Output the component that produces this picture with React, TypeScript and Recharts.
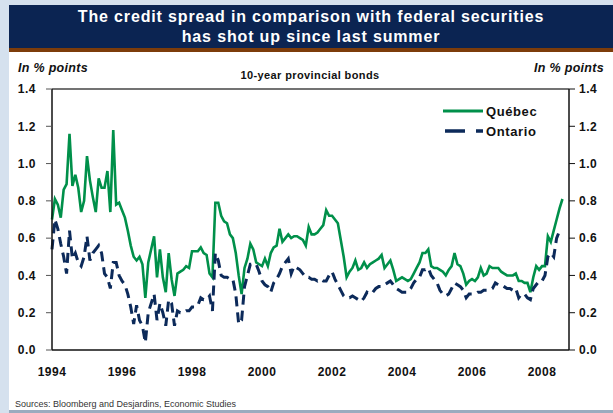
import { LineChart, Line, XAxis, YAxis, ReferenceLine } from 'recharts';

const font = '"Liberation Sans", Arial, sans-serif';

const years = [1994, 1995, 1996, 1997, 1998, 1999, 2000, 2001, 2002, 2003, 2004, 2005, 2006, 2007, 2008];

// monthly spreads, one row per year (Jan..Dec), 2008 runs to August
const quebec = [
  [0.70, 0.81, 0.78, 0.71, 0.86, 0.89, 1.16, 0.88, 0.94, 0.87, 0.74, 0.80],
  [1.04, 0.91, 0.82, 0.74, 0.92, 0.87, 0.87, 0.96, 0.74, 1.18, 0.78, 0.79],
  [0.75, 0.71, 0.64, 0.56, 0.50, 0.48, 0.50, 0.46, 0.28, 0.47, 0.54, 0.61],
  [0.39, 0.54, 0.39, 0.31, 0.52, 0.38, 0.29, 0.41, 0.42, 0.43, 0.45, 0.44],
  [0.53, 0.53, 0.53, 0.55, 0.52, 0.51, 0.41, 0.39, 0.79, 0.79, 0.72, 0.69],
  [0.68, 0.62, 0.60, 0.52, 0.40, 0.30, 0.44, 0.49, 0.57, 0.54, 0.47, 0.46],
  [0.45, 0.49, 0.45, 0.52, 0.55, 0.56, 0.65, 0.58, 0.60, 0.62, 0.60, 0.61],
  [0.61, 0.60, 0.59, 0.56, 0.66, 0.62, 0.62, 0.63, 0.65, 0.67, 0.75, 0.72],
  [0.72, 0.70, 0.68, 0.59, 0.50, 0.39, 0.42, 0.44, 0.48, 0.43, 0.44, 0.47],
  [0.44, 0.46, 0.47, 0.48, 0.49, 0.51, 0.44, 0.46, 0.48, 0.43, 0.37, 0.38],
  [0.39, 0.38, 0.37, 0.38, 0.41, 0.44, 0.47, 0.52, 0.52, 0.54, 0.45, 0.44],
  [0.44, 0.43, 0.42, 0.40, 0.43, 0.45, 0.52, 0.46, 0.45, 0.41, 0.35, 0.37],
  [0.38, 0.37, 0.39, 0.44, 0.40, 0.41, 0.45, 0.44, 0.44, 0.44, 0.42, 0.41],
  [0.40, 0.40, 0.40, 0.41, 0.37, 0.37, 0.36, 0.36, 0.31, 0.39, 0.45, 0.43],
  [0.45, 0.45, 0.61, 0.58, 0.64, 0.70, 0.76, 0.81],
];

const ontario = [
  [0.54, 0.70, 0.65, 0.57, 0.50, 0.41, 0.64, 0.49, 0.52, 0.47, 0.45, 0.50],
  [0.61, 0.48, 0.52, 0.54, 0.56, 0.52, 0.41, 0.39, 0.33, 0.47, 0.47, 0.40],
  [0.37, 0.35, 0.30, 0.23, 0.14, 0.24, 0.16, 0.13, 0.04, 0.20, 0.25, 0.30],
  [0.16, 0.25, 0.20, 0.13, 0.27, 0.25, 0.13, 0.21, 0.20, 0.20, 0.21, 0.21],
  [0.23, 0.23, 0.24, 0.28, 0.27, 0.27, 0.29, 0.21, 0.52, 0.48, 0.40, 0.39],
  [0.39, 0.38, 0.38, 0.30, 0.14, 0.16, 0.34, 0.40, 0.46, 0.46, 0.46, 0.42],
  [0.37, 0.35, 0.34, 0.31, 0.36, 0.38, 0.41, 0.45, 0.47, 0.49, 0.41, 0.45],
  [0.44, 0.43, 0.41, 0.39, 0.39, 0.38, 0.38, 0.37, 0.38, 0.37, 0.37, 0.40],
  [0.42, 0.38, 0.35, 0.32, 0.29, 0.28, 0.28, 0.29, 0.28, 0.27, 0.26, 0.28],
  [0.31, 0.30, 0.31, 0.33, 0.34, 0.34, 0.35, 0.36, 0.37, 0.35, 0.33, 0.32],
  [0.31, 0.31, 0.31, 0.33, 0.36, 0.38, 0.39, 0.43, 0.43, 0.44, 0.40, 0.38],
  [0.36, 0.32, 0.30, 0.29, 0.30, 0.33, 0.36, 0.35, 0.34, 0.32, 0.28, 0.30],
  [0.30, 0.30, 0.31, 0.31, 0.32, 0.32, 0.32, 0.33, 0.36, 0.35, 0.35, 0.34],
  [0.33, 0.33, 0.32, 0.33, 0.28, 0.30, 0.30, 0.28, 0.27, 0.33, 0.35, 0.37],
  [0.37, 0.40, 0.50, 0.52, 0.50, 0.60, 0.64],
];

const xTicks = [1994, 1996, 1998, 2000, 2002, 2004, 2006, 2008];
const yTicks = [0, 0.2, 0.4, 0.6, 0.8, 1.0, 1.2, 1.4];

const data = years.flatMap((y, i) =>
  quebec[i].map((q, m) => ({
    t: y + m / 12,
    quebec: q,
    ontario: ontario[i][m] ?? null,
  }))
);

const GREEN = '#00904a';
const NAVY = '#0c2a5a';

const LegendBox = () => (
  <svg width={110} height={40} style={{ position: 'absolute', left: 440, top: 101 }}>
    <line x1={3} y1={10} x2={43} y2={10} stroke={GREEN} strokeWidth={3} />
    <text x={46} y={14.5} fontFamily={font} fontWeight="bold" fontSize={13} letterSpacing={0.6} fill="#111">Québec</text>
    <line x1={5} y1={30} x2={43} y2={30} stroke={NAVY} strokeWidth={3.5} strokeDasharray="20 11" />
    <text x={46} y={34.5} fontFamily={font} fontWeight="bold" fontSize={13} letterSpacing={0.6} fill="#111">Ontario</text>
  </svg>
);

const tickStyle = { fill: '#111', fontSize: 12, fontWeight: 'bold', fontFamily: font, letterSpacing: 0.5 };

export default function App() {
  return (
    <div style={{ position: 'absolute', left: 0, top: 0, width: 613, height: 413, background: '#fff', overflow: 'hidden', fontFamily: font }}>
      <div style={{ position: 'absolute', left: 0, top: 0, width: 9, height: 413, background: '#d5e1ee' }} />
      <div style={{ position: 'absolute', left: 0, top: 0, width: 613, height: 5, background: '#d5e1ee' }} />
      <div
        style={{
          position: 'absolute', left: 9, top: 5, width: 604, height: 43, background: '#0b2452',
          color: '#fff', fontWeight: 'bold', fontSize: 16, letterSpacing: 0.85, lineHeight: '20px',
          textAlign: 'center', paddingTop: 2, boxSizing: 'border-box',
        }}
      >
        The credit spread in comparison with federal securities
        <br />
        has shot up since last summer
      </div>
      <div style={{ position: 'absolute', left: 9, top: 48, width: 604, height: 4, background: '#7d3c0a' }} />
      <div style={{ position: 'absolute', left: 9, top: 410, width: 604, height: 3, background: '#9aabbf' }} />

      <div style={{ position: 'absolute', left: 18, top: 61, fontSize: 12.5, fontWeight: 'bold', fontStyle: 'italic', color: '#111', letterSpacing: 0.3 }}>
        In % points
      </div>
      <div style={{ position: 'absolute', right: 9, top: 61, fontSize: 12.5, fontWeight: 'bold', fontStyle: 'italic', color: '#111', letterSpacing: 0.3 }}>
        In % points
      </div>
      <div style={{ position: 'absolute', left: 0, width: 620, top: 69, textAlign: 'center', fontSize: 11, fontWeight: 'bold', color: '#111', letterSpacing: 0.4 }}>
        10-year provincial bonds
      </div>
      <div style={{ position: 'absolute', left: 15, top: 399, fontSize: 9, color: '#333' }}>
        Sources: Bloomberg and Desjardins, Economic Studies
      </div>

      <div style={{ position: 'absolute', left: 0, top: 0 }}>
        <LineChart width={613} height={413} data={data} margin={{ top: 89, right: 4, left: 12, bottom: 43 }}>
          <XAxis
            dataKey="t"
            type="number"
            domain={[1994, 2008.77]}
            ticks={xTicks}
            tickLine={false}
            tickMargin={11}
            height={20}
            axisLine={{ stroke: '#111', strokeWidth: 1.5 }}
            tick={tickStyle}
            interval={0}
          />
          <YAxis
            yAxisId="left"
            orientation="left"
            domain={[0, 1.4]}
            ticks={yTicks}
            width={40}
            tickSize={6}
            tickMargin={10}
            tickFormatter={(v: number) => v.toFixed(1)}
            axisLine={{ stroke: '#111', strokeWidth: 1.5 }}
            tickLine={{ stroke: '#555' }}
            tick={tickStyle}
            interval={0}
          />
          <YAxis
            yAxisId="right"
            orientation="right"
            domain={[0, 1.4]}
            ticks={yTicks}
            width={40}
            tickSize={6}
            tickMargin={4}
            tickFormatter={(v: number) => v.toFixed(1)}
            axisLine={{ stroke: '#111', strokeWidth: 1.5 }}
            tickLine={{ stroke: '#111' }}
            tick={tickStyle}
            interval={0}
          />
          <ReferenceLine yAxisId="left" y={1.4} stroke="#444" strokeWidth={1.5} />
          <Line
            yAxisId="right"
            dataKey="quebec"
            name="Québec"
            stroke={GREEN}
            strokeWidth={2.6}
            dot={false}
            isAnimationActive={false}
          />
          <Line
            yAxisId="left"
            dataKey="ontario"
            name="Ontario"
            stroke={NAVY}
            strokeWidth={3}
            strokeDasharray="10 6"
            dot={false}
            connectNulls={false}
            isAnimationActive={false}
          />
        </LineChart>
      </div>
      <LegendBox />
    </div>
  );
}
